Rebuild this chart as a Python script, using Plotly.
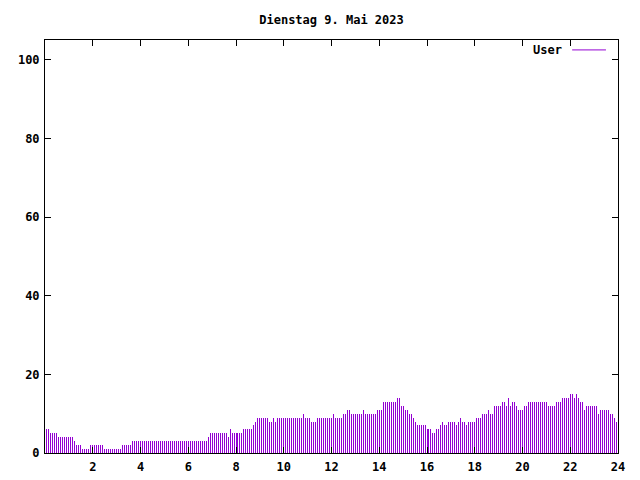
import numpy as np
import plotly.graph_objects as go

title_text = "Dienstag 9. Mai 2023"
series_name = "User"
interval_minutes = 5
user_values = [
    6, 6, 5, 5, 5, 5, 4, 4, 4, 4, 4, 4, 4, 4, 3, 2, 2, 2, 1, 1, 1, 1, 2, 2, 2, 2, 2, 2, 2,
    1, 1, 1, 1, 1, 1, 1, 1, 1, 2, 2, 2, 2, 2, 3, 3, 3, 3, 3, 3, 3, 3, 3, 3, 3, 3, 3, 3, 3, 3,
    3, 3, 3, 3, 3, 3, 3, 3, 3, 3, 3, 3, 3, 3, 3, 3, 3, 3, 3, 3, 3, 3, 4, 5, 5, 5, 5, 5, 5, 5,
    5, 5, 4, 6, 5, 5, 5, 5, 5, 5, 6, 6, 6, 6, 6, 7, 8, 9, 9, 9, 9, 9, 9, 8, 8, 9, 8, 9, 9, 9,
    9, 9, 9, 9, 9, 9, 9, 9, 9, 9, 10, 9, 9, 9, 8, 8, 8, 9, 9, 9, 9, 9, 9, 9, 9, 10, 9, 9, 9, 9,
    10, 10, 11, 11, 10, 10, 10, 10, 10, 10, 11, 10, 10, 10, 10, 10, 10, 11, 11, 11, 13, 13, 13, 13, 13, 13, 13, 14, 14, 12,
    12, 11, 11, 10, 10, 9, 8, 7, 7, 7, 7, 7, 6, 6, 6, 5, 5, 6, 6, 7, 8, 7, 7, 8, 8, 8, 8, 7, 8, 9,
    8, 8, 7, 8, 8, 8, 8, 9, 9, 9, 10, 10, 10, 11, 10, 10, 12, 12, 12, 12, 13, 13, 12, 14, 12, 13, 13, 12, 11, 11,
    11, 12, 12, 13, 13, 13, 13, 13, 13, 13, 13, 13, 13, 12, 12, 12, 12, 13, 13, 13, 14, 14, 14, 14, 15, 15, 14, 15, 14, 13,
    13, 11, 12, 12, 12, 12, 12, 12, 10, 11, 11, 11, 11, 11, 10, 10, 9, 8,
]
x_tick_values = [2, 4, 6, 8, 10, 12, 14, 16, 18, 20, 22, 24]
y_tick_values = [0, 20, 40, 60, 80, 100]

# samples every 5 minutes, starting at 00:05
hours = (np.arange(len(user_values)) + 1) * interval_minutes / 60.0

FONT = "DejaVu Sans Mono"
PURPLE = "#9400D3"
PURPLE_BAR = "rgba(148,0,211,0.999)"

fig = go.Figure()
fig.add_trace(go.Bar(
    x=hours, y=user_values, width=interval_minutes / 60.0 * 0.505,
    marker=dict(color=PURPLE_BAR, line=dict(width=0)),
    name=series_name, showlegend=False,
))

axis_common = dict(
    showline=True, linecolor="black", linewidth=1, mirror="allticks",
    ticks="inside", ticklen=6, tickcolor="black", tickwidth=1,
    showgrid=False, zeroline=False,
    tickfont=dict(family=FONT, size=12, color="black", weight="bold"),
)
fig.update_xaxes(range=[0, 24], tickvals=x_tick_values, ticktext=[str(v) for v in x_tick_values],
                 ticklabelstandoff=3, **axis_common)
fig.update_yaxes(range=[0, 105], tickvals=y_tick_values, ticklabelstandoff=2, **axis_common)

fig.add_annotation(
    xref="paper", yref="paper", x=0.906, y=0.976, text=series_name,
    showarrow=False, xanchor="right", yanchor="middle",
    font=dict(family=FONT, size=12, color="black", weight="bold"),
)
fig.add_shape(type="line", xref="paper", yref="paper", x0=0.920, x1=0.979, y0=0.976, y1=0.976,
              line=dict(color=PURPLE, width=1))

fig.update_layout(
    width=640, height=480,
    margin=dict(l=37, r=30, t=32, b=35, autoexpand=False),
    paper_bgcolor="white", plot_bgcolor="white",
    bargap=0, bargroupgap=0,
    title=dict(text=title_text, x=0.5, xref="paper", y=0.975, yanchor="middle",
               font=dict(family=FONT, size=12, color="black", weight="bold")),
    showlegend=False,
)

fig.write_html("out.html")
